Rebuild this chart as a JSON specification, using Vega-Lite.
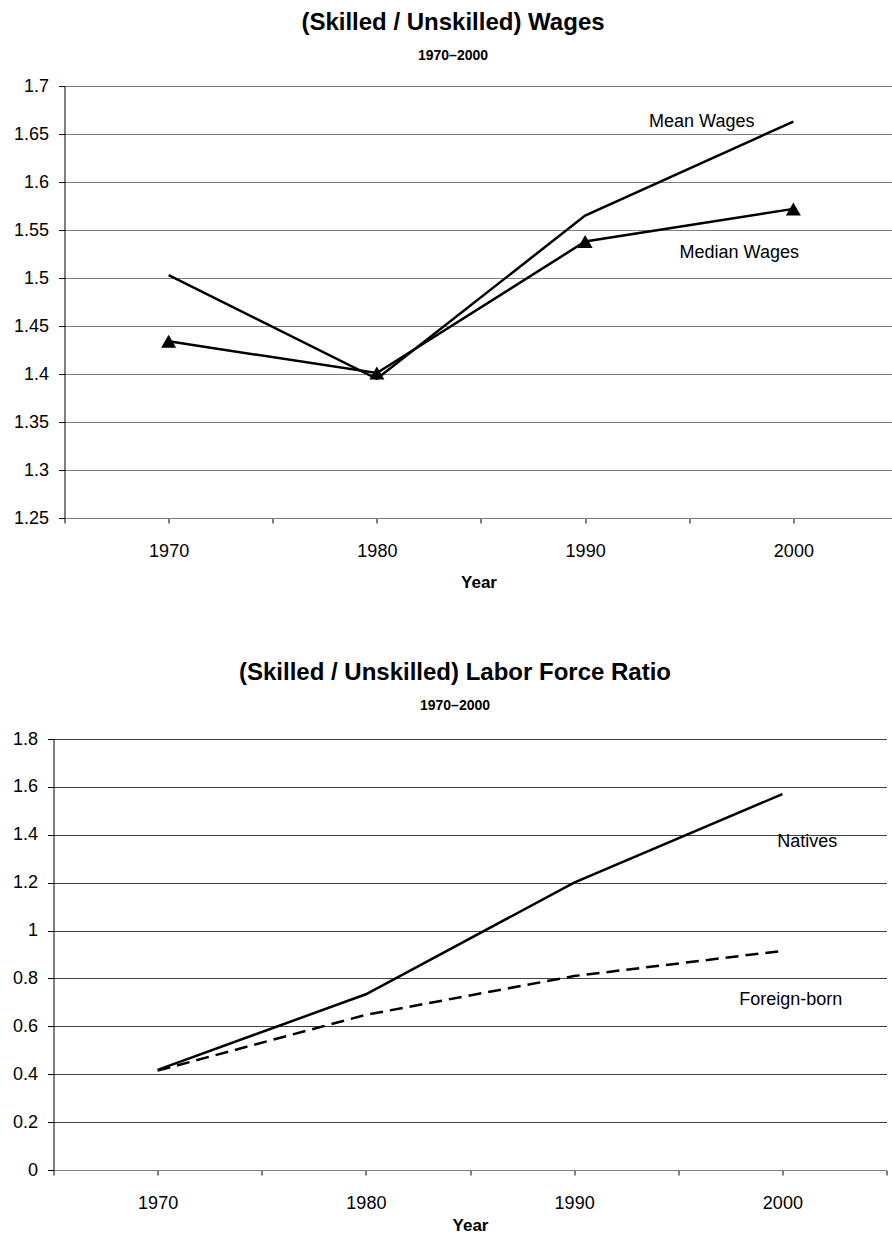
{
  "$schema": "https://vega.github.io/schema/vega-lite/v6.json",
  "background": "white",
  "padding": {"left": 11.5, "top": 11, "right": 0, "bottom": 0},
  "datasets": {
    "wages": [
      {"year": 1970, "series": "Mean Wages", "value": 1.503},
      {"year": 1980, "series": "Mean Wages", "value": 1.395},
      {"year": 1990, "series": "Mean Wages", "value": 1.565},
      {"year": 2000, "series": "Mean Wages", "value": 1.663},
      {"year": 1970, "series": "Median Wages", "value": 1.434},
      {"year": 1980, "series": "Median Wages", "value": 1.401},
      {"year": 1990, "series": "Median Wages", "value": 1.538},
      {"year": 2000, "series": "Median Wages", "value": 1.572}
    ],
    "wageLabels": [
      {"year": 1995.6, "value": 1.6625, "label": "Mean Wages"},
      {"year": 1997.4, "value": 1.5262, "label": "Median Wages"}
    ],
    "labor": [
      {"year": 1970, "series": "Natives", "value": 0.418},
      {"year": 1980, "series": "Natives", "value": 0.734},
      {"year": 1990, "series": "Natives", "value": 1.2},
      {"year": 2000, "series": "Natives", "value": 1.57},
      {"year": 1970, "series": "Foreign-born", "value": 0.415},
      {"year": 1980, "series": "Foreign-born", "value": 0.648},
      {"year": 1990, "series": "Foreign-born", "value": 0.81},
      {"year": 2000, "series": "Foreign-born", "value": 0.915}
    ],
    "laborLabels": [
      {"year": 2001.2, "value": 1.37, "label": "Natives"},
      {"year": 2000.4, "value": 0.71, "label": "Foreign-born"}
    ]
  },
  "config": {
    "font": "Liberation Sans",
    "view": {"stroke": null},
    "axis": {
      "labelFont": "Liberation Sans",
      "labelFontSize": 18,
      "labelColor": "black",
      "titleFont": "Liberation Sans",
      "titleFontSize": 17,
      "titleFontWeight": "bold",
      "titleColor": "black",
      "tickColor": "black",
      "domainColor": "black",
      "gridColor": "#808080",
      "gridOpacity": 1
    },
    "title": {
      "font": "Liberation Sans",
      "fontSize": 24,
      "fontWeight": "bold",
      "color": "black",
      "subtitleFont": "Liberation Sans",
      "subtitleFontSize": 14,
      "subtitleFontWeight": "bold",
      "subtitleColor": "black",
      "anchor": "middle",
      "frame": "bounds"
    }
  },
  "concat": [
    {
      "width": 828,
      "height": 432,
      "title": {"text": "(Skilled / Unskilled) Wages", "subtitle": "1970–2000", "subtitlePadding": 14, "offset": 14},
      "encoding": {
        "x": {
          "field": "year", "type": "quantitative",
          "scale": {"domain": [1965, 2004.76], "nice": false, "zero": false},
          "axis": {
            "title": "Year", "values": [1965, 1970, 1975, 1980, 1985, 1990, 1995, 2000],
            "format": "d", "labelExpr": "datum.value % 10 == 0 ? datum.label : ''",
            "grid": false, "tickSize": 5, "labelPadding": 19, "titlePadding": 14,
            "labelOverlap": false, "labelFlush": false, "domainColor": "#808080"
          }
        },
        "y": {
          "field": "value", "type": "quantitative",
          "scale": {"domain": [1.25, 1.7], "nice": false, "zero": false},
          "axis": {
            "title": null, "values": [1.25, 1.3, 1.35, 1.4, 1.45, 1.5, 1.55, 1.6, 1.65, 1.7],
            "format": ".2~f", "grid": true, "tickSize": 6, "labelPadding": 10
          }
        }
      },
      "layer": [
        {
          "data": {"name": "wages"},
          "mark": {"type": "line", "color": "black", "strokeWidth": 2.5},
          "encoding": {"detail": {"field": "series", "type": "nominal"}}
        },
        {
          "data": {"name": "wages"},
          "transform": [{"filter": "datum.series == 'Median Wages'"}],
          "mark": {"type": "point", "shape": "triangle-up", "filled": true, "color": "black", "size": 225, "opacity": 1}
        },
        {
          "data": {"name": "wageLabels"},
          "mark": {"type": "text", "fontSize": 18, "color": "black", "align": "center", "baseline": "middle"},
          "encoding": {"text": {"field": "label"}}
        }
      ]
    },
    {
      "width": 822,
      "height": 431,
      "title": {"text": "(Skilled / Unskilled) Labor Force Ratio", "subtitle": "1970–2000", "subtitlePadding": 14, "offset": 17},
      "encoding": {
        "x": {
          "field": "year", "type": "quantitative",
          "scale": {"domain": [1965, 2005], "range": [-11, 822], "nice": false, "zero": false},
          "axis": {
            "title": "Year", "values": [1965, 1970, 1975, 1980, 1985, 1990, 1995, 2000, 2005],
            "format": "d", "labelExpr": "datum.value % 10 == 0 && datum.value <= 2000 ? datum.label : ''",
            "grid": false, "tickSize": 5, "labelPadding": 19, "titlePadding": 5,
            "labelOverlap": false, "labelFlush": false, "domainColor": "#808080"
          }
        },
        "y": {
          "field": "value", "type": "quantitative",
          "scale": {"domain": [0, 1.8], "nice": false},
          "axis": {
            "title": null, "values": [0, 0.2, 0.4, 0.6, 0.8, 1, 1.2, 1.4, 1.6, 1.8],
            "format": ".1~f", "grid": true, "gridColor": "#404040", "tickSize": 6, "labelPadding": 10, "offset": 11
          }
        }
      },
      "layer": [
        {
          "data": {"name": "labor"},
          "transform": [{"filter": "datum.series == 'Natives'"}],
          "mark": {"type": "line", "color": "black", "strokeWidth": 2.5},
          "encoding": {}
        },
        {
          "data": {"name": "labor"},
          "transform": [{"filter": "datum.series == 'Foreign-born'"}],
          "mark": {"type": "line", "color": "black", "strokeWidth": 2.5, "strokeDash": [13, 7]},
          "encoding": {}
        },
        {
          "data": {"name": "laborLabels"},
          "mark": {"type": "text", "fontSize": 18, "color": "black", "align": "center", "baseline": "middle"},
          "encoding": {"text": {"field": "label"}}
        }
      ]
    }
  ],
  "columns": 1,
  "spacing": 71
}
